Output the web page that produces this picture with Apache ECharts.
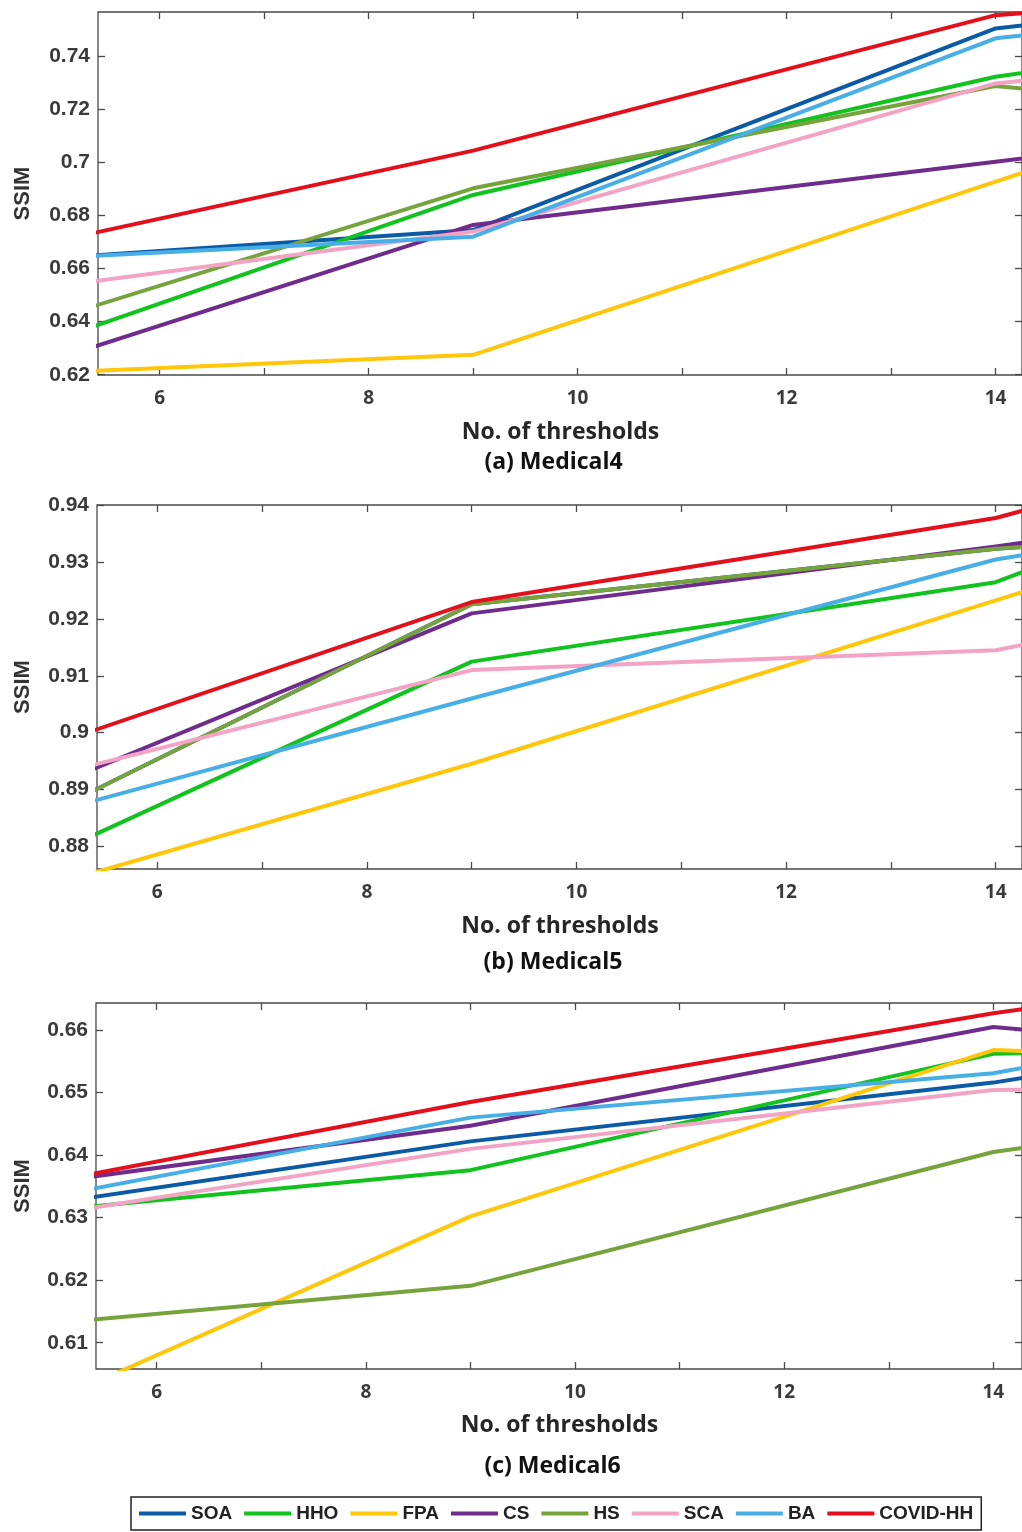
<!DOCTYPE html>
<html>
<head>
<meta charset="utf-8">
<script src="https://cdn.jsdelivr.net/npm/echarts@6/dist/echarts.min.js"></script>
<style>
  html, body { margin: 0; padding: 0; background: #ffffff; }
  #chart { width: 1022px; height: 1532px; }
</style>
</head>
<body>
<div id="chart"></div>
<script>
// ---- data -------------------------------------------------------------
const algorithms = ['SOA', 'HHO', 'FPA', 'CS', 'HS', 'SCA', 'BA', 'COVID-HH'];
const thresholds = [5, 9, 14, 15];

// SSIM per algorithm (rows follow `algorithms`, columns follow `thresholds`)
const medical4 = [
  [0.6640, 0.6745, 0.7504, 0.7547],
  [0.6332, 0.6877, 0.7322, 0.7379],
  [0.6209, 0.6275, 0.6927, 0.7057],
  [0.6258, 0.6764, 0.7002, 0.7050],
  [0.6413, 0.6902, 0.7287, 0.7252],
  [0.6533, 0.6739, 0.7297, 0.7336],
  [0.6640, 0.6720, 0.7467, 0.7510],
  [0.6702, 0.7044, 0.7554, 0.7584]
];
const medical5 = [
  [0.8862, 0.9226, 0.9324, 0.9336],
  [0.8786, 0.9125, 0.9265, 0.9335],
  [0.8732, 0.8945, 0.9233, 0.9291],
  [0.8906, 0.9210, 0.9328, 0.9353],
  [0.8862, 0.9226, 0.9324, 0.9336],
  [0.8925, 0.9110, 0.9145, 0.9182],
  [0.8860, 0.9060, 0.9305, 0.9335],
  [0.8979, 0.9230, 0.9378, 0.9428]
];
const medical6 = [
  [0.6323, 0.6422, 0.6516, 0.6543],
  [0.6312, 0.6376, 0.6562, 0.6566],
  [0.6006, 0.6302, 0.6568, 0.6563],
  [0.6357, 0.6447, 0.6605, 0.6590],
  [0.6131, 0.6191, 0.6405, 0.6428],
  [0.6306, 0.6410, 0.6504, 0.6506],
  [0.6334, 0.6460, 0.6531, 0.6561],
  [0.6358, 0.6485, 0.6627, 0.6650]
];

const xTickValues = [6, 7, 8, 9, 10, 11, 12, 13, 14];
const xLabelValues = [6, 8, 10, 12, 14];
const medical4Ticks = [0.62, 0.64, 0.66, 0.68, 0.70, 0.72, 0.74];
const medical5Ticks = [0.88, 0.89, 0.90, 0.91, 0.92, 0.93, 0.94];
const medical6Ticks = [0.61, 0.62, 0.63, 0.64, 0.65, 0.66];
const captions = ['(a) Medical4', '(b) Medical5', '(c) Medical6'];
const xTitle = 'No. of thresholds';
const yTitle = 'SSIM';

// ---- styling / layout ---------------------------------------------------
const lineColors = ['#0a5aa6', '#12c21e', '#ffc60a', '#702c8c', '#76a33c', '#f3a3c4', '#48aee6', '#e3101c'];

const panels = [
  { data: medical4, yTicks: medical4Ticks, left: 98, top: 12,   height: 363, xMin: 5.41,  xMax: 14.253, yMin: 0.6199, yMax: 0.7566, xTitleY: 432,  captionY: 462 },
  { data: medical5, yTicks: medical5Ticks, left: 97, top: 505,  height: 364, xMin: 5.425, xMax: 14.251, yMin: 0.87595, yMax: 0.9401, xTitleY: 926,  captionY: 962 },
  { data: medical6, yTicks: medical6Ticks, left: 96, top: 1003, height: 366, xMin: 5.42,  xMax: 14.274, yMin: 0.6058, yMax: 0.66433, xTitleY: 1425, captionY: 1466 }
];

const frameColor = '#4a4a4a';
const tickLine = { color: frameColor, width: 1.3 };

const grids = [], xAxes = [], yAxes = [], series = [], graphics = [];

panels.forEach((p, i) => {
  const width = 1023 - p.left;
  grids.push({
    left: p.left, top: p.top, width: width, height: p.height,
    show: true, borderColor: frameColor, borderWidth: 1.3, backgroundColor: 'transparent'
  });

  const xCommon = {
    type: 'value', gridIndex: i, min: p.xMin, max: p.xMax,
    splitLine: { show: false }, axisLine: { show: false }
  };
  xAxes.push(Object.assign({}, xCommon, {
    position: 'bottom',
    axisTick: { inside: true, length: 7, customValues: xTickValues, lineStyle: tickLine },
    axisLabel: {
      customValues: xLabelValues, margin: 14,
      fontFamily: 'Open Sans', fontWeight: 'bold', fontSize: 19, color: '#3a3a3a'
    }
  }));
  xAxes.push(Object.assign({}, xCommon, {
    position: 'top',
    axisTick: { inside: true, length: 7, customValues: xTickValues, lineStyle: tickLine },
    axisLabel: { show: false }
  }));

  const yCommon = {
    type: 'value', gridIndex: i, min: p.yMin, max: p.yMax,
    splitLine: { show: false }, axisLine: { show: false }
  };
  yAxes.push(Object.assign({}, yCommon, {
    position: 'left',
    axisTick: { inside: true, length: 7, customValues: p.yTicks, lineStyle: tickLine },
    axisLabel: {
      customValues: p.yTicks, margin: 8,
      formatter: v => String(+v.toFixed(2)),
      fontFamily: 'Liberation Sans', fontWeight: 'bold', fontSize: 21, color: '#3a3a3a'
    }
  }));
  yAxes.push(Object.assign({}, yCommon, {
    position: 'right',
    axisTick: { inside: true, length: 7, customValues: p.yTicks, lineStyle: tickLine },
    axisLabel: { show: false }
  }));

  algorithms.forEach((name, j) => {
    series.push({
      type: 'line', name: name,
      xAxisIndex: 2 * i, yAxisIndex: 2 * i,
      data: thresholds.map((t, k) => [t, p.data[j][k]]),
      symbol: 'none', showSymbol: false, clip: true,
      lineStyle: { width: 4, color: lineColors[j], join: 'round', cap: 'round' },
      itemStyle: { color: lineColors[j] },
      z: 2 + j
    });
  });

  const midX = (p.left + 1023) / 2;
  graphics.push({
    type: 'text', x: midX, y: p.xTitleY,
    style: { text: xTitle, textAlign: 'center', textVerticalAlign: 'middle',
      font: 'bold 23px "Open Sans"', fill: '#262626' }
  });
  graphics.push({
    type: 'text', x: midX - 7, y: p.captionY,
    style: { text: captions[i], textAlign: 'center', textVerticalAlign: 'middle',
      font: 'bold 23px "Open Sans"', fill: '#111111' }
  });
  graphics.push({
    type: 'text', x: 23, y: p.top + p.height / 2, rotation: Math.PI / 2,
    style: { text: yTitle, textAlign: 'center', textVerticalAlign: 'middle',
      font: 'bold 22px "Liberation Sans"', fill: '#333333' }
  });
});

const chart = echarts.init(document.getElementById('chart'), null, { renderer: 'canvas' });
chart.setOption({
  animation: false,
  backgroundColor: '#ffffff',
  grid: grids,
  xAxis: xAxes,
  yAxis: yAxes,
  legend: {
    data: algorithms,
    left: 131, top: 1497,
    orient: 'horizontal',
    icon: 'rect', itemWidth: 47, itemHeight: 4, itemGap: 12,
    padding: [7, 8],
    borderColor: '#222222', borderWidth: 1.5,
    textStyle: { fontFamily: 'Liberation Sans', fontWeight: 'bold', fontSize: 19, color: '#222222' }
  },
  graphic: graphics,
  series: series
});
</script>
</body>
</html>
